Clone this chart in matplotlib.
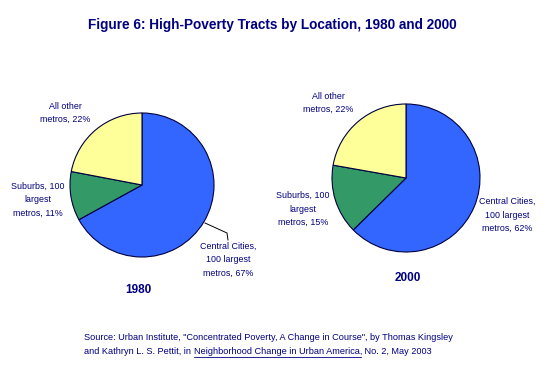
import matplotlib
matplotlib.use("Agg")
import matplotlib.pyplot as plt

plt.rcParams['font.family'] = ['Liberation Sans', 'DejaVu Sans']

W, H = 550, 376
title = "Figure 6: High-Poverty Tracts by Location, 1980 and 2000"
categories = ["Central Cities,\n100 largest\nmetros", "Suburbs, 100\nlargest\nmetros", "All other\nmetros"]
values_1980 = [67, 11, 22]
values_2000 = [62, 15, 22]
years = ["1980", "2000"]
source1 = "Source: Urban Institute, \"Concentrated Poverty, A Change in Course\", by Thomas Kingsley"
source2a = "and Kathryn L. S. Pettit, in "
source2b = "Neighborhood Change in Urban America,"
source2c = " No. 2, May 2003"

colors = ["#3366FF", "#339966", "#FFFF99"]
edge = "#000040"
tcol = "#000080"

fig = plt.figure(figsize=(W / 100, H / 100), dpi=100)
ax = fig.add_axes([0, 0, 1, 1])

def Y(y):
    return H - y

def fmt(cat, v):
    return f"{cat}, {v}%"

# pie 1980
ax.pie(values_1980, colors=colors, startangle=90, counterclock=False,
       center=(142, Y(185)), radius=72, frame=True,
       wedgeprops=dict(edgecolor=edge, linewidth=0.8))
# pie 2000
ax.pie(values_2000, colors=colors, startangle=90, counterclock=False,
       center=(406, Y(178)), radius=74, frame=True,
       wedgeprops=dict(edgecolor=edge, linewidth=0.8))

ax.set_xlim(0, W)
ax.set_ylim(0, H)
ax.set_aspect('equal')
ax.axis('off')

lab_kw = dict(fontsize=6.4, color=tcol, ha='center', va='center', linespacing=1.65)

# 1980 labels
ax.text(65, Y(113), fmt(categories[2], values_1980[2]), **lab_kw)
ax.text(38, Y(200), fmt(categories[1], values_1980[1]), **lab_kw)
ax.text(228, Y(260), fmt(categories[0], values_1980[0]), **lab_kw)
ax.plot([205, 227, 228], [Y(223), Y(233), Y(240)], color='black', lw=0.7)

# 2000 labels
ax.text(328, Y(103), fmt(categories[2], values_2000[2]), **lab_kw)
ax.text(303, Y(209), fmt(categories[1], values_2000[1]), **lab_kw)
ax.text(507, Y(215), fmt(categories[0], values_2000[0]), **lab_kw)

# year labels
ax.text(138, Y(290), years[0], fontsize=8.5, fontweight='bold', color=tcol, ha='center', va='center')
ax.text(408, Y(278), years[1], fontsize=8.5, fontweight='bold', color=tcol, ha='center', va='center')

# title
ax.text(272, Y(25), title, fontsize=9.8, fontweight='bold', color=tcol, ha='center', va='center')

# source
src_kw = dict(fontsize=6.6, color=tcol, ha='left', va='center')
ax.text(84, Y(338), source1, **src_kw)
t1 = ax.text(84, Y(352), source2a, **src_kw)
fig.canvas.draw()
r = fig.canvas.get_renderer()
inv = ax.transData.inverted()
bb = t1.get_window_extent(r)
x1 = inv.transform((bb.x1, bb.y0))[0]
t2 = ax.text(x1, Y(352), source2b, **src_kw)
bb2 = t2.get_window_extent(r)
x2 = inv.transform((bb2.x1, bb2.y0))[0]
ax.text(x2, Y(352), source2c, **src_kw)
ax.plot([x1, x2 - 1], [Y(356.5), Y(356.5)], color=tcol, lw=0.6)

fig.savefig("out.png", dpi=100)
